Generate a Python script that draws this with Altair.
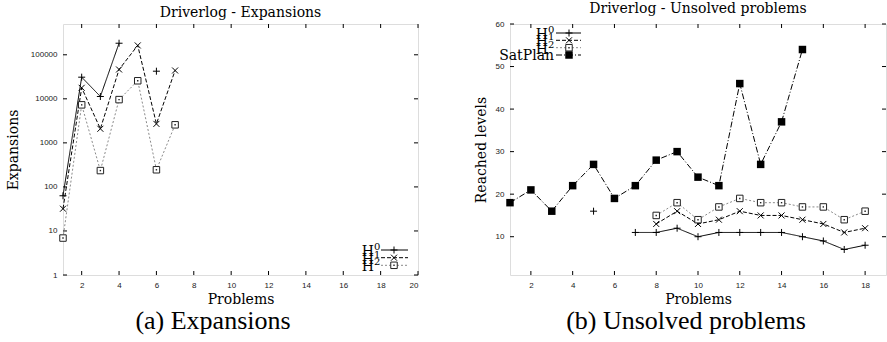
import altair as alt
import pandas as pd

# ---------------- data ----------------
series_names = ["H0", "H1", "H2", "SatPlan"]
legend_base = ["H", "H", "H", "SatPlan"]
legend_index = ["0", "1", "2", ""]

problems_left = [1, 2, 3, 4, 5, 6, 7]
exp_h0 = [63, 31000, 11300, 183000, None, 42400, None]
exp_h1 = [32, 17800, 2090, 46400, 163000, 2700, 44000]
exp_h2 = [6.9, 7300, 235, 9600, 25700, 245, 2570]

problems_right = list(range(1, 19))
lvl_h0 = [None, None, None, None, 16, None, 11, 11, 12, 10, 11, 11, 11, 11, 10, 9, 7, 8]
lvl_h1 = [None, None, None, None, None, None, None, 13, 16, 13, 14, 16, 15, 15, 14, 13, 11, 12]
lvl_h2 = [None, None, None, None, None, None, None, 15, 18, 14, 17, 19, 18, 18, 17, 17, 14, 16]
lvl_sat = [18, 21, 16, 22, 27, 19, 22, 28, 30, 24, 22, 46, 27, 37, 54, None, None, None]

x_ticks_left = [2, 4, 6, 8, 10, 12, 14, 16, 18, 20]
y_ticks_left = [1, 10, 100, 1000, 10000, 100000]
x_ticks_right = [2, 4, 6, 8, 10, 12, 14, 16, 18]
y_ticks_right = [10, 20, 30, 40, 50, 60]

titles = ["Driverlog - Expansions", "Driverlog - Unsolved problems"]
captions = ["(a) Expansions", "(b) Unsolved problems"]
x_title = "Problems"
y_titles = ["Expansions", "Reached levels"]

# ---------------- styles ----------------
PLUS = "M-1,0L1,0M0,-1L0,1"
CROSS = "M-1,-1L1,1M-1,1L1,-1"
STYLE = {
    "H0": dict(color="#000000", dash=[1, 0], shape=PLUS, filled=False, size=49),
    "H1": dict(color="#000000", dash=[4, 2], shape=CROSS, filled=False, size=36),
    "H2": dict(color="#8a8a8a", dash=[2, 2], shape="square", filled=False, size=42),
    "SatPlan": dict(color="#000000", dash=[6, 2, 1, 2], shape="square", filled=True, size=56),
}

SERIF = "DejaVu Serif"
SANS = "Liberation Sans"


def frame(xs, ys, name):
    rows, seg, prev = [], 0, False
    for x, y in zip(xs, ys):
        if y is None:
            if prev:
                seg += 1
            prev = False
            continue
        rows.append(dict(x=x, y=y, series=name, seg=f"{name}-{seg}"))
        prev = True
    return pd.DataFrame(rows)


def marker_marks(chart, name, enc):
    st = STYLE[name]
    if st["shape"] == "square" and not st["filled"]:
        return [
            chart.mark_point(shape="square", filled=True, fill="#ffffff", stroke="#222222",
                             strokeWidth=1, size=st["size"], opacity=1).encode(**enc),
            chart.mark_point(shape="square", filled=True, color="#222222", size=2, opacity=1).encode(**enc),
        ]
    if st["filled"]:
        return [chart.mark_point(shape=st["shape"], filled=True, color="#000000",
                                 size=st["size"], opacity=1).encode(**enc)]
    return [chart.mark_point(shape=st["shape"], filled=False, stroke="#000000", strokeWidth=1,
                             size=st["size"], opacity=1).encode(**enc)]


def series_layers(df, X, Y, name):
    st = STYLE[name]
    base = alt.Chart(df)
    line = base.mark_line(color=st["color"], strokeDash=st["dash"], strokeWidth=1).encode(
        x=X, y=Y, detail="seg:N")
    return [line] + marker_marks(base, name, dict(x=X, y=Y))


def tick_layers(xt, yt, X, Y, w, h, L=4):
    dx = pd.DataFrame({"x": xt})
    dy = pd.DataFrame({"y": yt})
    rx = dict(color="#000000", strokeWidth=1)
    return [
        alt.Chart(dx).mark_rule(**rx).encode(x=X, y=alt.value(h), y2=alt.value(h - L)),
        alt.Chart(dx).mark_rule(**rx).encode(x=X, y=alt.value(0), y2=alt.value(L)),
        alt.Chart(dy).mark_rule(**rx).encode(y=Y, x=alt.value(0), x2=alt.value(L)),
        alt.Chart(dy).mark_rule(**rx).encode(y=Y, x=alt.value(w), x2=alt.value(w - L)),
    ]


def legend_layers(names, bases, idxs, rows_y, x_text, x0, x1, xm):
    out = []
    for name, b, ix, yy in zip(names, bases, idxs, rows_y):
        st = STYLE[name]
        d = pd.DataFrame({"label": [b], "idx": [ix]})
        if ix:
            out.append(alt.Chart(d).mark_text(font=SERIF, fontSize=14, align="right", baseline="middle",
                                              dy=2, color="#000000")
                       .encode(x=alt.value(x_text - 6), y=alt.value(yy), text="label:N"))
            out.append(alt.Chart(d).mark_text(font=SERIF, fontSize=10, align="left", baseline="middle",
                                              dy=-3, color="#000000")
                       .encode(x=alt.value(x_text - 6), y=alt.value(yy), text="idx:N"))
        else:
            out.append(alt.Chart(d).mark_text(font=SERIF, fontSize=14, align="right", baseline="middle",
                                              dy=1, color="#000000")
                       .encode(x=alt.value(x_text), y=alt.value(yy), text="label:N"))
        out.append(alt.Chart(d).mark_rule(color=st["color"], strokeDash=st["dash"], strokeWidth=1)
                   .encode(x=alt.value(x0), x2=alt.value(x1), y=alt.value(yy)))
        out += marker_marks(alt.Chart(d), name, dict(x=alt.value(xm), y=alt.value(yy)))
    return out


def caption_layer(text, xpix, ypix):
    d = pd.DataFrame({"label": [text]})
    return alt.Chart(d).mark_text(font="Liberation Serif", fontSize=26, align="center",
                                  baseline="middle", color="#000000").encode(
        x=alt.value(xpix), y=alt.value(ypix), text="label:N")


axis_common = dict(grid=False, domain=False, ticks=False, tickSize=0, labelFont=SANS, labelFontSize=8,
                   labelColor="#222222", titleFont=SERIF, titleFontSize=14, titleFontWeight="normal",
                   titleColor="#000000")

# ---------------- left panel ----------------
WL, HL = 355, 251
XL = alt.X("x:Q", scale=alt.Scale(domain=[1, 20], nice=False, zero=False),
           axis=alt.Axis(values=x_ticks_left, title=x_title, labelPadding=6, titlePadding=3, **axis_common))
YL = alt.Y("y:Q", scale=alt.Scale(type="log", domain=[1, 500000], nice=False),
           axis=alt.Axis(values=y_ticks_left, format="d", title=y_titles[0], labelPadding=6,
                         titlePadding=10, **axis_common))

left_layers = []
left_layers += tick_layers(x_ticks_left, y_ticks_left, XL, YL, WL, HL)
for nm, ys in zip(series_names[:3], [exp_h0, exp_h1, exp_h2]):
    left_layers += series_layers(frame(problems_left, ys, nm), XL, YL, nm)
left_layers += legend_layers(series_names[:3], legend_base[:3], legend_index[:3],
                             [226, 233.7, 241.3], 317, 318, 345, 331)
left_layers.append(caption_layer(captions[0], 150, 297))

left = alt.layer(*left_layers).properties(
    width=WL, height=HL,
    title=alt.TitleParams(titles[0], font=SERIF, fontSize=14, fontWeight="normal", offset=4, color="#000000"))

# ---------------- right panel ----------------
WR, HR = 376, 251
XR = alt.X("x:Q", scale=alt.Scale(domain=[1, 19], nice=False, zero=False),
           axis=alt.Axis(values=x_ticks_right, title=x_title, labelPadding=6, titlePadding=3, **axis_common))
YR = alt.Y("y:Q", scale=alt.Scale(domain=[1, 60], nice=False, zero=False),
           axis=alt.Axis(values=y_ticks_right, title=y_titles[1], labelPadding=6, titlePadding=7,
                         **axis_common))

right_layers = []
right_layers += tick_layers(x_ticks_right, y_ticks_right, XR, YR, WR, HR)
for nm, ys in zip(series_names, [lvl_h0, lvl_h1, lvl_h2, lvl_sat]):
    right_layers += series_layers(frame(problems_right, ys, nm), XR, YR, nm)
right_layers += legend_layers(series_names, legend_base, legend_index,
                              [9, 16.3, 23.7, 31], 44, 46, 71, 59)
right_layers.append(caption_layer(captions[1], 176, 297))

right = alt.layer(*right_layers).properties(
    width=WR, height=HR,
    title=alt.TitleParams(titles[1], font=SERIF, fontSize=14, fontWeight="normal", offset=4, color="#000000"))

chart = alt.hconcat(left, right, spacing=54).properties(
    padding={"left": 5, "top": 1, "right": 0, "bottom": 0}
).configure_view(stroke="#000000", strokeWidth=1.5).configure(background="#ffffff")

chart.save("out.html", embed_options={"renderer": "svg", "actions": False})
